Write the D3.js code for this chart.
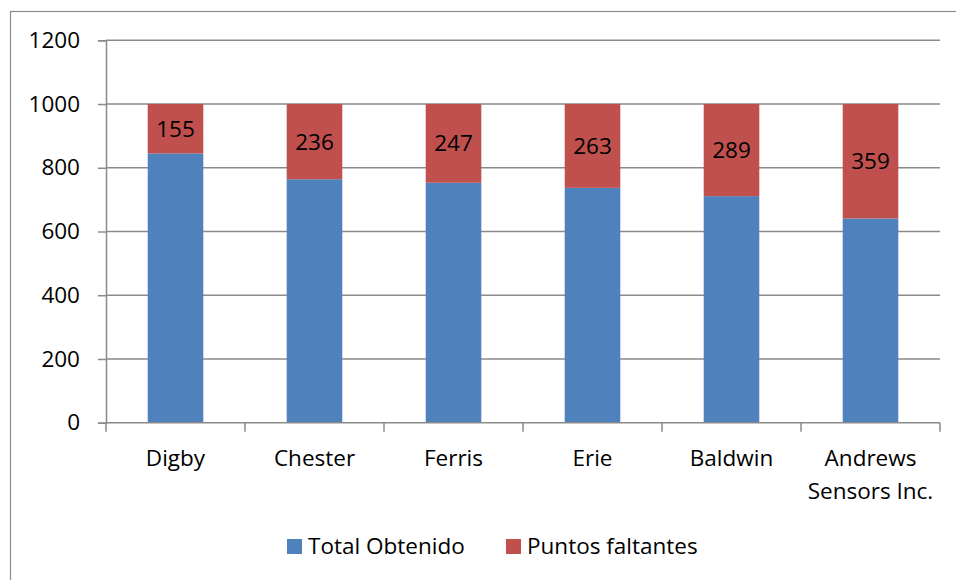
<!DOCTYPE html>
<html>
<head>
<meta charset="utf-8">
<script src="https://cdn.jsdelivr.net/npm/d3@7"></script>
<style>
  body { margin: 0; background: #fff; }
  svg { display: block; font-family: "Open Sans", sans-serif; }
</style>
</head>
<body>
<div id="chart"></div>
<script>
var companies = ["Digby", "Chester", "Ferris", "Erie", "Baldwin", "Andrews Sensors Inc."];
var totalObtenido = [845, 764, 753, 737, 711, 641];
var puntosFaltantes = [155, 236, 247, 263, 289, 359];
var yTicks = [0, 200, 400, 600, 800, 1000, 1200];
var seriesNames = ["Total Obtenido", "Puntos faltantes"];
var seriesColors = ["#4F81BD", "#C0504D"];

var width = 956, height = 580;
var margin = {top: 40.3, left: 106, right: 16, bottom: 157.3};
var plotW = width - margin.left - margin.right;
var plotH = height - margin.top - margin.bottom;
var fs = "22.5px";

var svg = d3.select("#chart").append("svg")
    .attr("width", width)
    .attr("height", height);

// outer chart border (runs off the right and bottom edges)
svg.append("rect")
    .attr("x", 10.5).attr("y", 11.5)
    .attr("width", 980).attr("height", 620)
    .attr("fill", "none")
    .attr("stroke", "#8a8a8a")
    .attr("stroke-width", 1.2);

var g = svg.append("g")
    .attr("transform", "translate(" + margin.left + "," + margin.top + ")");

var x = d3.scaleBand()
    .domain(companies)
    .range([0, plotW])
    .paddingInner(0.6)
    .paddingOuter(0.3);

var xCat = d3.scaleBand().domain(companies).range([0, plotW]);

var y = d3.scaleLinear()
    .domain([0, 1200])
    .range([plotH, 0]);

// gridlines
g.selectAll("line.grid")
    .data(yTicks.filter(function(d){ return d > 0; }))
    .enter().append("line")
    .attr("class", "grid")
    .attr("x1", 0).attr("x2", plotW)
    .attr("y1", function(d){ return y(d); })
    .attr("y2", function(d){ return y(d); })
    .attr("stroke", "#8a8a8a")
    .attr("stroke-width", 1.5);

var stackData = companies.map(function(c, i){
    return {name: c, total: totalObtenido[i], falt: puntosFaltantes[i]};
});
var stack = d3.stack().keys(["total", "falt"])(stackData);

g.selectAll("g.series")
    .data(stack)
    .enter().append("g")
    .attr("class", "series")
    .attr("fill", function(d, i){ return seriesColors[i]; })
    .selectAll("rect")
    .data(function(d){ return d; })
    .enter().append("rect")
    .attr("x", function(d){ return x(d.data.name); })
    .attr("width", x.bandwidth())
    .attr("y", function(d){ return y(d[1]); })
    .attr("height", function(d){ return y(d[0]) - y(d[1]); });

// data labels on the red part
g.selectAll("text.lbl")
    .data(stack[1])
    .enter().append("text")
    .attr("class", "lbl")
    .attr("x", function(d){ return x(d.data.name) + x.bandwidth() / 2; })
    .attr("y", function(d){ return (y(d[0]) + y(d[1])) / 2; })
    .attr("dy", "0.36em")
    .attr("text-anchor", "middle")
    .style("font-size", fs)
    .style("fill", "#000")
    .text(function(d){ return d.data.falt; });

// y axis
var yAxis = d3.axisLeft(y).tickValues(yTicks).tickFormat(d3.format("d")).tickSize(8).tickPadding(18);
var ya = g.append("g").call(yAxis);
ya.select(".domain").attr("stroke", "#8a8a8a").attr("stroke-width", 1.5);
ya.selectAll(".tick line").attr("stroke", "#8a8a8a").attr("stroke-width", 1.5);
ya.selectAll(".tick text").style("font-size", fs).style("fill", "#000")
    .style("font-family", "Open Sans, sans-serif");

// x axis
var xa = g.append("g").attr("transform", "translate(0," + plotH + ")");
xa.append("line")
    .attr("x1", 0).attr("x2", plotW)
    .attr("stroke", "#8a8a8a").attr("stroke-width", 1.5);
xa.selectAll("line.tk")
    .data(companies.concat(["end"]))
    .enter().append("line")
    .attr("class", "tk")
    .attr("x1", function(d, i){ return i * xCat.bandwidth(); })
    .attr("x2", function(d, i){ return i * xCat.bandwidth(); })
    .attr("y1", 0).attr("y2", 9)
    .attr("stroke", "#8a8a8a").attr("stroke-width", 1.5);

xa.selectAll("text.cat")
    .data(companies)
    .enter().append("text")
    .attr("class", "cat")
    .attr("text-anchor", "middle")
    .style("font-size", fs)
    .style("fill", "#000")
    .each(function(d){
        var t = d3.select(this);
        var cx = xCat(d) + xCat.bandwidth() / 2;
        var lines = d == "Andrews Sensors Inc." ? ["Andrews", "Sensors Inc."] : [d];
        lines.forEach(function(l, k){
            t.append("tspan").attr("x", cx).attr("y", 43 + k * 33).text(l);
        });
    });

// legend
var legendX = [287, 506];
var lg = svg.selectAll("g.legend")
    .data(seriesNames)
    .enter().append("g")
    .attr("class", "legend")
    .attr("transform", function(d, i){ return "translate(" + legendX[i] + ",539)"; });
lg.append("rect")
    .attr("width", 15).attr("height", 15)
    .attr("fill", function(d, i){ return seriesColors[i]; });
lg.append("text")
    .attr("x", 21).attr("y", 15)
    .style("font-size", fs)
    .style("fill", "#000")
    .text(function(d){ return d; });
</script>
</body>
</html>
